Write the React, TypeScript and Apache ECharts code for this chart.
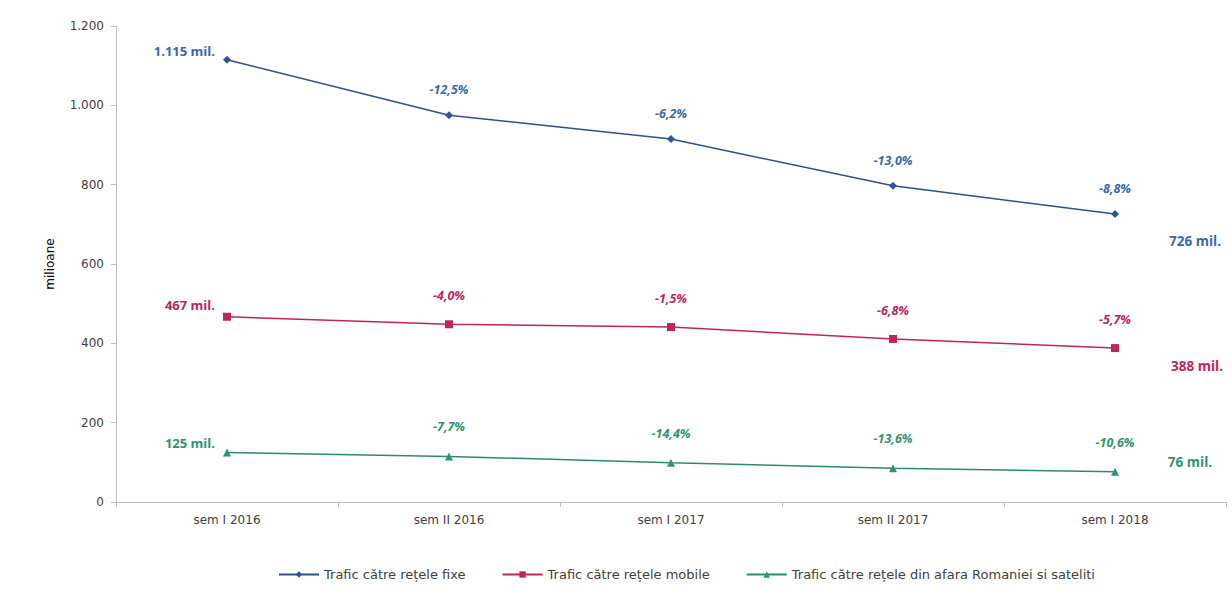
import React, { useEffect, useRef } from "react";
import * as echarts from "echarts";

const categories = ["sem I 2016", "sem II 2016", "sem I 2017", "sem II 2017", "sem I 2018"];
const seriesNames = [
  "Trafic către rețele fixe",
  "Trafic către rețele mobile",
  "Trafic către rețele din afara Romaniei si sateliti",
];
const fixe = [1115, 975, 915, 797, 726];
const mobile = [467, 448, 441, 411, 388];
const afara = [125, 115, 99, 85, 76];
const fixePct = ["", "-12,5%", "-6,2%", "-13,0%", "-8,8%"];
const mobilePct = ["", "-4,0%", "-1,5%", "-6,8%", "-5,7%"];
const afaraPct = ["", "-7,7%", "-14,4%", "-13,6%", "-10,6%"];
const firstLabels = ["1.115 mil.", "467 mil.", "125 mil."];
const lastLabels = ["726 mil.", "388 mil.", "76 mil."];
const yTicks = [0, 200, 400, 600, 800, 1000, 1200];

const colors = ["#2F5597", "#C0245C", "#2E9470"];
const labelColors = ["#3A68AE", "#C0245C", "#2E9470"];
const lineColors = ["#2F4F8A", "#C0245C", "#2E8B6A"];
const symbols = ["diamond", "rect", "triangle"];
const symbolSizes = [8, 8, 8];
const pctDistance = [15, 18, 19];
const firstOffsets = [[0, -9], [0, -12], [0, -9]];
const lastOffsets = [[80, 27], [82, 18], [75, -10]];

const FONT = "'Open Sans', 'Noto Sans', sans-serif";
const AXFONT = "'DejaVu Sans', sans-serif";

export default function App() {
  const ref = useRef<HTMLDivElement>(null);
  useEffect(() => {
    if (!ref.current) return;
    const chart = echarts.init(ref.current, null, { renderer: "svg" });
    const datas = [fixe, mobile, afara];
    const pcts = [fixePct, mobilePct, afaraPct];
    const series = datas.map((d, si) => ({
      name: seriesNames[si],
      type: "line",
      data: d.map((v, i) => ({
        value: v,
        label:
          i === 0
            ? {
                show: true,
                position: "left",
                distance: 8,
                offset: firstOffsets[si],
                formatter: firstLabels[si],
                fontStyle: "normal",
                fontWeight: "bold",
                fontSize: 13,
              }
            : {
                show: true,
                position: "top",
                distance: pctDistance[si],
                formatter: pcts[si][i],
                fontStyle: "italic",
                fontWeight: "bold",
                fontSize: 12.5,
              },
      })),
      symbol: symbols[si],
      symbolSize: symbolSizes[si],
      itemStyle: { color: colors[si] },
      lineStyle: { color: lineColors[si], width: 1.5 },
      label: {
        color: labelColors[si],
        fontFamily: FONT,
        fontSize: 13,
      },
      markPoint: {
        symbol: "circle",
        symbolSize: 0,
        silent: true,
        data: [
          {
            coord: [d.length - 1, d[d.length - 1]],
            label: {
              show: true,
              position: "inside",
              offset: lastOffsets[si],
              formatter: lastLabels[si],
              color: labelColors[si],
              fontFamily: FONT,
              fontSize: 13.5,
              fontWeight: "bold",
            },
          },
        ],
      },
    }));
    chart.setOption({
      animation: false,
      backgroundColor: "#ffffff",
      textStyle: { fontFamily: FONT },
      grid: { left: 116, right: 6, top: 26, bottom: 111, containLabel: false },
      legend: {
        bottom: 27,
        left: 273,
        itemWidth: 40,
        itemHeight: 8,
        itemGap: 36,
        textStyle: { color: "#404040", fontSize: 13, fontFamily: AXFONT },
        data: seriesNames,
      },
      xAxis: {
        type: "category",
        data: categories,
        boundaryGap: true,
        axisLine: { lineStyle: { color: "#BFBFBF" } },
        axisTick: { show: true, length: 5, lineStyle: { color: "#BFBFBF" } },
        axisLabel: { color: "#404040", fontSize: 12, margin: 12, fontFamily: AXFONT },
      },
      yAxis: {
        type: "value",
        min: yTicks[0],
        max: yTicks[yTicks.length - 1],
        interval: 200,
        name: "milioane",
        nameLocation: "middle",
        nameGap: 60,
        nameTextStyle: { color: "#000000", fontSize: 12, fontFamily: AXFONT },
        axisLine: { show: true, lineStyle: { color: "#BFBFBF" } },
        axisTick: { show: true, length: 5, lineStyle: { color: "#BFBFBF" } },
        splitLine: { show: false },
        axisLabel: {
          color: "#404040",
          fontSize: 12,
          margin: 12,
          fontFamily: AXFONT,
          formatter: (v: number) => (v >= 1000 ? v.toLocaleString("de-DE") : String(v)),
        },
      },
      series,
    });
    return () => chart.dispose();
  }, []);
  return (
    <div
      ref={ref}
      style={{ position: "absolute", left: 0, top: 0, width: 1232, height: 613 }}
    />
  );
}
